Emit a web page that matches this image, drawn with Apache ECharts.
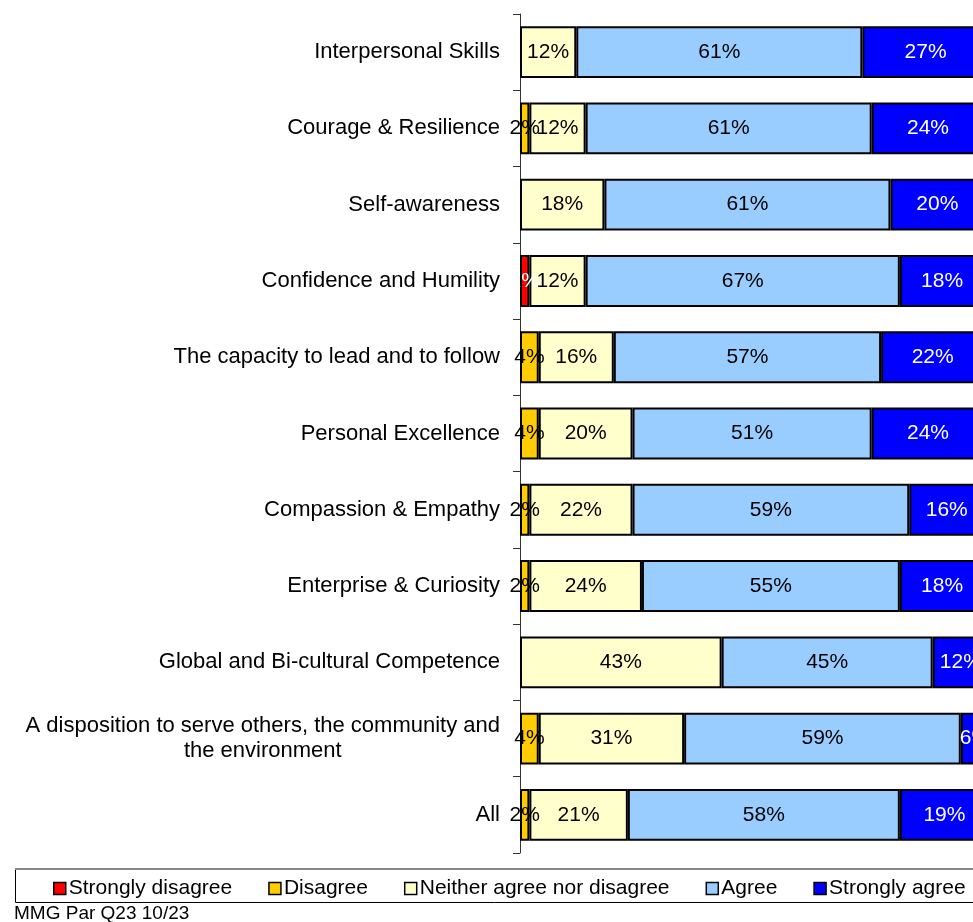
<!DOCTYPE html>
<html>
<head>
<meta charset="utf-8">
<script src="https://cdn.jsdelivr.net/npm/echarts@6/dist/echarts.min.js"></script>
<style>
html,body{margin:0;padding:0;background:#fff;}
#chart{width:973px;height:922px;}
</style>
</head>
<body>
<div id="chart"></div>
<script>
const categories = [
  'Interpersonal Skills',
  'Courage & Resilience',
  'Self-awareness',
  'Confidence and Humility',
  'The capacity to lead and to follow',
  'Personal Excellence',
  'Compassion & Empathy',
  'Enterprise & Curiosity',
  'Global and Bi-cultural Competence',
  'A disposition to serve others, the community and\nthe environment',
  'All'
];
const seriesNames = ['Strongly disagree', 'Disagree', 'Neither agree nor disagree', 'Agree', 'Strongly agree'];
const stronglyDisagree = [0, 0, 0, 2, 0, 0, 0, 0, 0, 0, 0];
const disagree         = [0, 2, 0, 0, 4, 4, 2, 2, 0, 4, 2];
const neither          = [12, 12, 18, 12, 16, 20, 22, 24, 43, 31, 21];
const agree            = [61, 61, 61, 67, 57, 51, 59, 55, 45, 59, 58];
const stronglyAgree    = [27, 24, 20, 18, 22, 24, 16, 18, 12, 6, 19];
const footnote = 'MMG Par Q23 10/23';

const values = [stronglyDisagree, disagree, neither, agree, stronglyAgree];
const colors = ['#FF0000', '#FFCC00', '#FFFFCC', '#99CCFF', '#0000FF'];
const labelColors = ['#FFFFFF', '#000000', '#000000', '#000000', '#FFFFFF'];
const FONT = '"Liberation Sans", Arial, sans-serif';

const chart = echarts.init(document.getElementById('chart'), null, {renderer: 'canvas'});

const series = seriesNames.map((name, i) => ({
  name: name,
  type: 'bar',
  stack: 'total',
  barWidth: '68%',
  clip: false,
  data: values[i].map(v => v === 0 ? '-' : v),
  itemStyle: {color: colors[i], borderColor: '#000', borderWidth: 2},
  label: {
    show: true,
    position: 'inside',
    formatter: p => p.value + '%',
    color: labelColors[i],
    fontSize: 21,
    fontFamily: FONT
  },
  emphasis: {disabled: true}
}));

chart.setOption({
  animation: false,
  backgroundColor: '#fff',
  grid: {left: 520, right: 0, top: 14, bottom: 69, containLabel: false},
  // the visible plot is cut off at the right edge: 100% lies just beyond the canvas
  xAxis: {type: 'value', min: 0, max: 96.6, show: false},
  yAxis: {
    type: 'category',
    data: categories,
    inverse: true,
    axisLine: {show: true, lineStyle: {color: '#333', width: 1}},
    axisTick: {show: true, length: 7, lineStyle: {color: '#333'}},
    splitLine: {show: false},
    axisLabel: {
      margin: 20,
      fontFamily: FONT,
      fontSize: 22,
      color: '#000',
      formatter: v => v.split('\n').map(s => '{c|' + s + '}').join('\n'),
      rich: {c: {align: 'center', fontSize: 22, lineHeight: 25, fontFamily: FONT, color: '#000'}}
    }
  },
  legend: {
    data: seriesNames,
    orient: 'horizontal',
    left: 48,
    top: 873,
    width: 1200,
    icon: 'rect',
    itemWidth: 12,
    itemHeight: 12,
    itemGap: 36,
    itemStyle: {borderColor: '#000', borderWidth: 1.5},
    textStyle: {fontSize: 21, fontFamily: FONT, color: '#000', padding: [0, 0, 0, -2]},
    selectedMode: false
  },
  graphic: [
    {type: 'rect', shape: {x: 15.5, y: 869.5, width: 1000, height: 33}, style: {fill: 'none', stroke: '#000', lineWidth: 1}, silent: true},
    {type: 'line', shape: {x1: 15, y1: 869, x2: 973, y2: 869}, style: {stroke: '#888', lineWidth: 2}, silent: true},
    {type: 'text', left: 14, top: 904, style: {text: footnote, fontSize: 19, fontFamily: FONT, fill: '#000'}, silent: true}
  ],
  series: series
});
</script>
</body>
</html>
